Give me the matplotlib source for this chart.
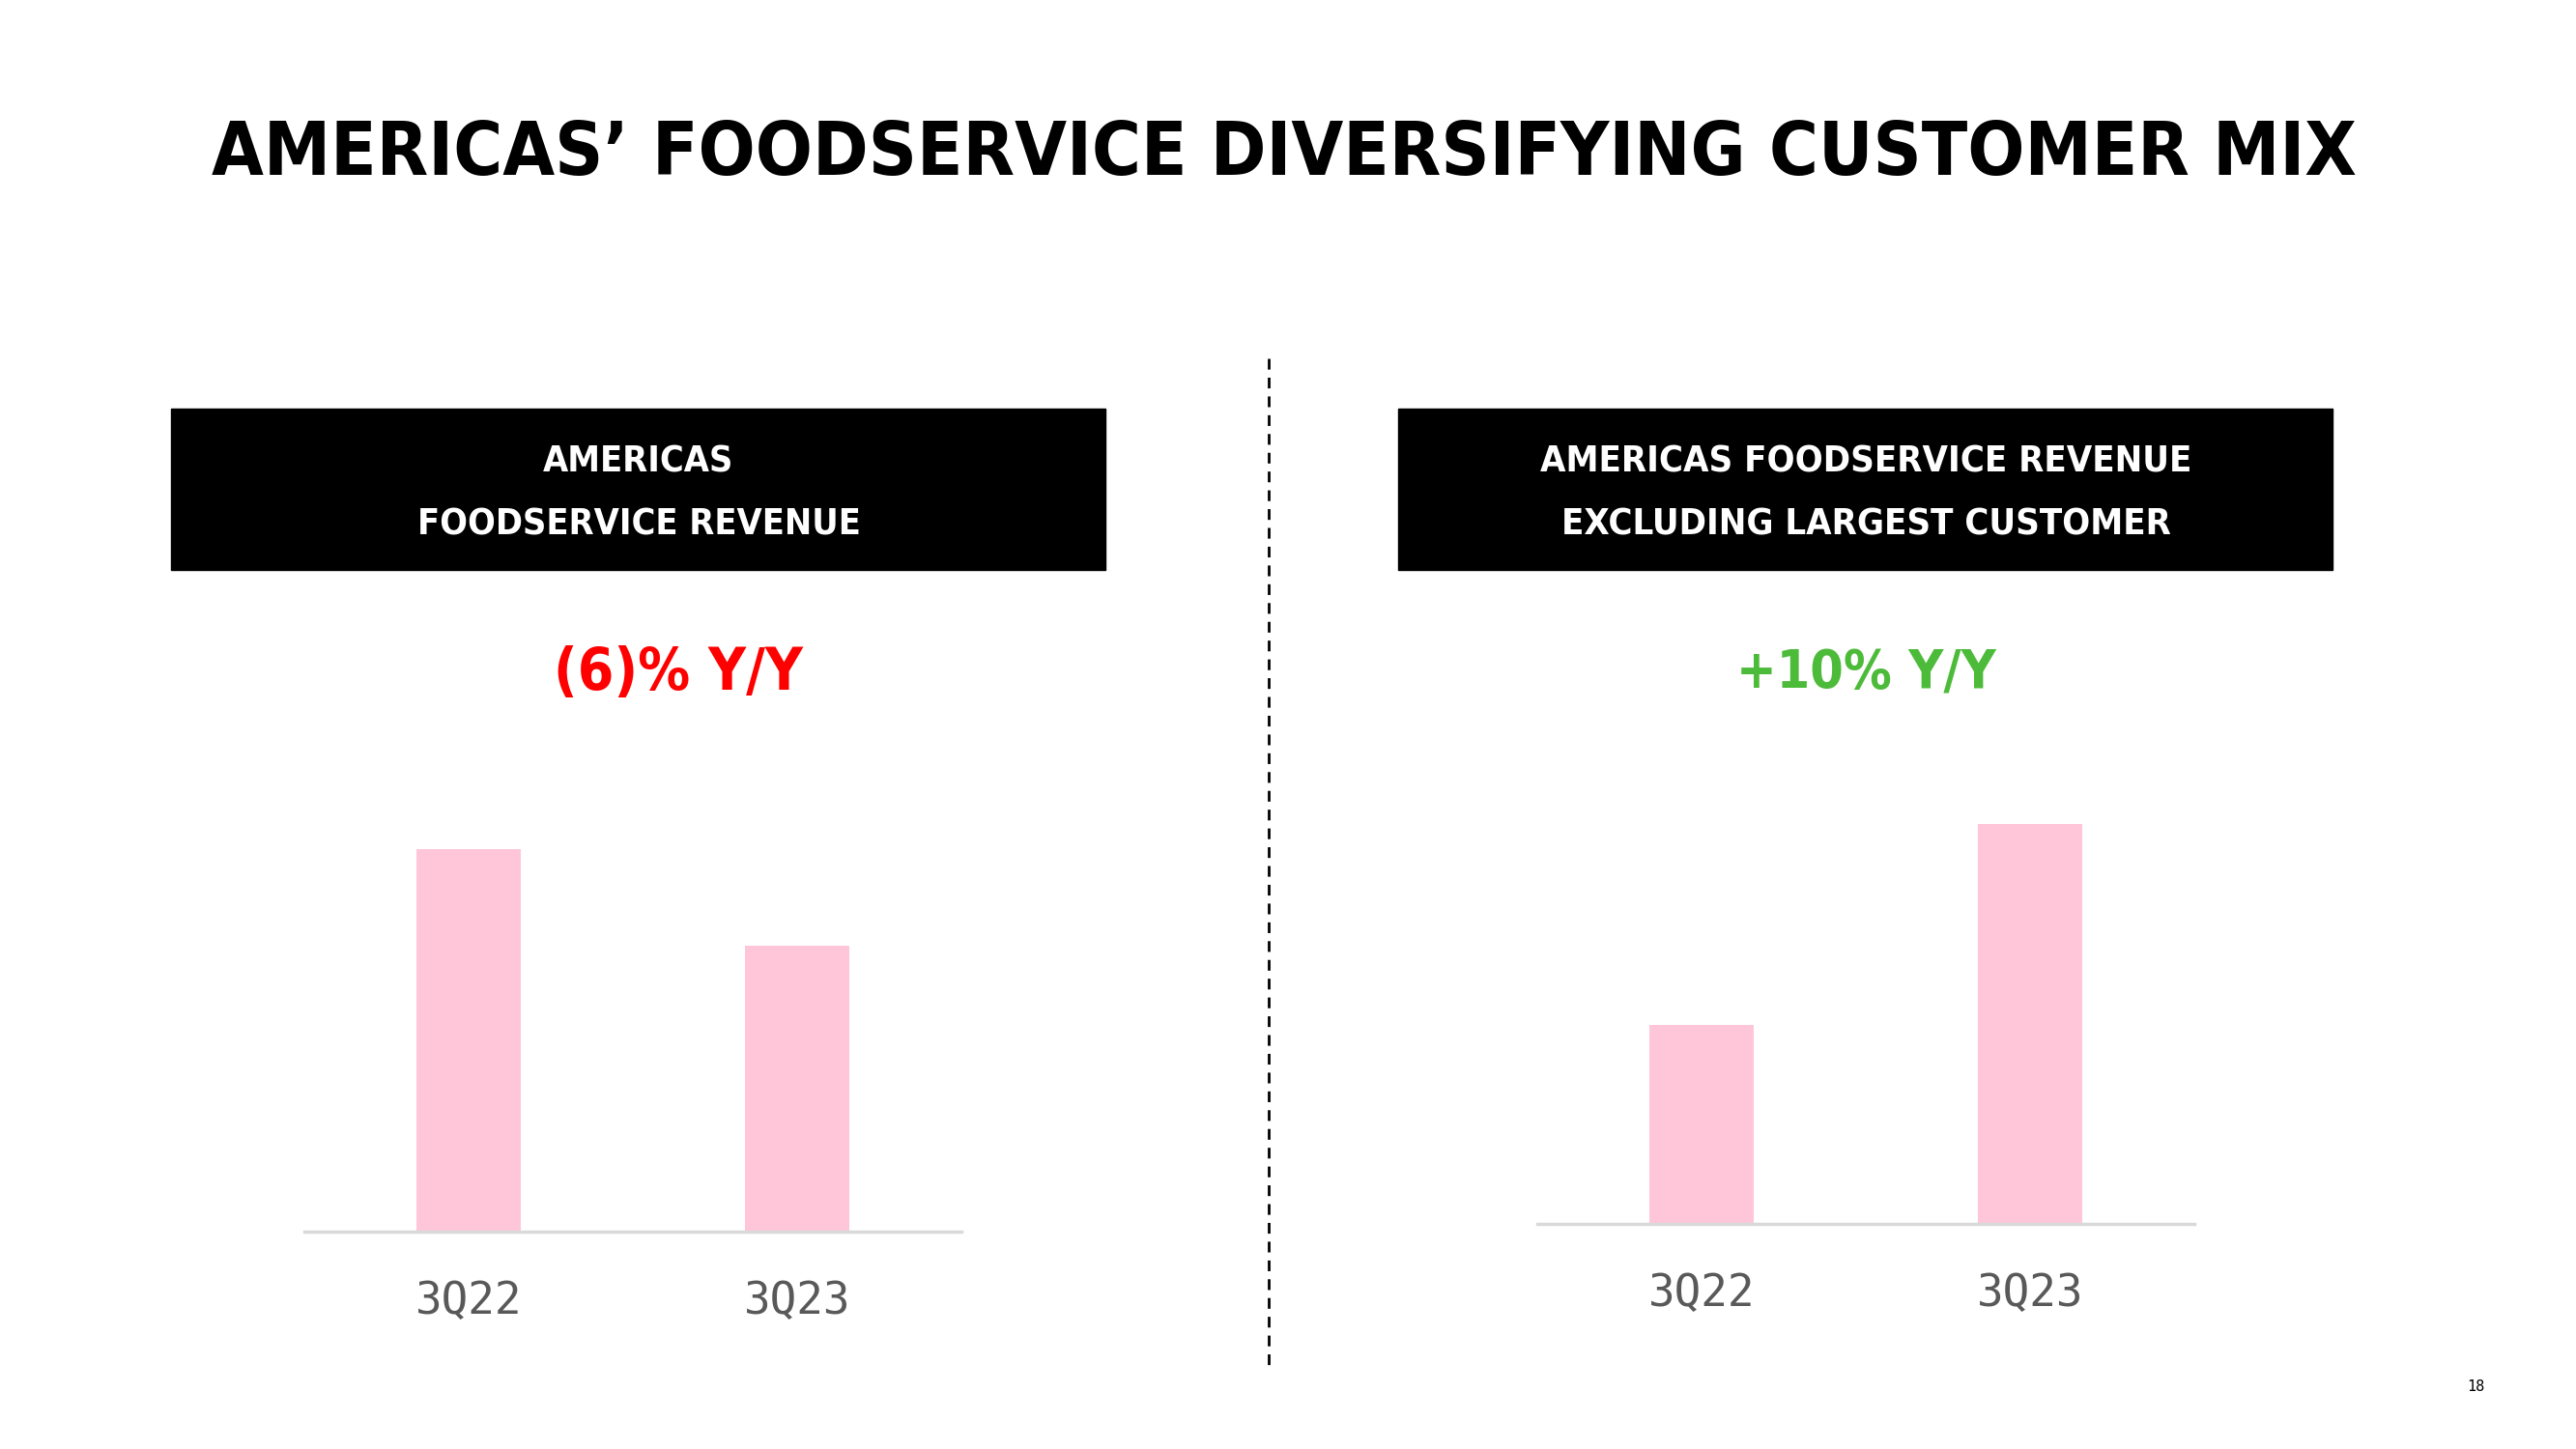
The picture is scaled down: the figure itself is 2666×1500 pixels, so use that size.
import matplotlib.pyplot as plt
from matplotlib.lines import Line2D
from matplotlib.patches import Rectangle

title = 'AMERICAS\u2019 FOODSERVICE DIVERSIFYING CUSTOMER MIX'
quarters = ['3Q22', '3Q23']
left_title = 'AMERICAS\nFOODSERVICE REVENUE'
right_title = 'AMERICAS FOODSERVICE REVENUE\nEXCLUDING LARGEST CUSTOMER'
left_vals = [396, 296]     # relative bar heights
right_vals = [206, 414]
left_change = '(6)% Y/Y'
right_change = '+10% Y/Y'
page = '18'

W, H = 2666, 1500
head = ['DejaVu Sans']
mono = ['DejaVu Sans Mono']
pink = '#FFC6DA'

fig = plt.figure(figsize=(W / 100, H / 100), dpi=100)
fig.patch.set_facecolor('white')

def fit(t, target):
    # scale font so the text spans the width it has on the slide
    r = fig.canvas.get_renderer()
    w = t.get_window_extent(r).width
    t.set_fontsize(t.get_fontsize() * target / w)

t = fig.text(1329 / W, 1 - 160 / H, title, ha='center', va='center',
             fontsize=60, fontweight='heavy', fontstretch='condensed',
             family=head, color='black')
fit(t, 2222)

def panel(x0, axx, base, vals, box_title, box_w, change, change_x, change_w, color):
    fig.patches.append(Rectangle((x0 / W, 1 - 590 / H), 967 / W, 167 / H,
                                 transform=fig.transFigure, color='black'))
    t = fig.text((x0 + 484) / W, 1 - 511 / H, box_title, ha='center', va='center',
                 fontsize=30, fontweight='bold', fontstretch='condensed',
                 family=head, color='white', linespacing=2.05)
    fit(t, box_w)
    t = fig.text(change_x / W, 1 - 697 / H, change, ha='center', va='center',
                 fontsize=50, fontweight='heavy', fontstretch='condensed',
                 family=head, color=color)
    fit(t, change_w)
    ax = fig.add_axes([axx / W, 1 - base / H, 680 / W, 500 / H])
    ax.bar(range(len(vals)), vals, width=0.315, color=pink)
    ax.set_xlim(-0.5, 1.5)
    ax.set_ylim(0, 500)
    ax.set_xticks(range(len(quarters)))
    ax.set_xticklabels(quarters, fontsize=33, family=mono, color='#595959')
    ax.tick_params(axis='x', length=0, pad=36)
    ax.set_yticks([])
    for s in ['top', 'right', 'left']:
        ax.spines[s].set_visible(False)
    ax.spines['bottom'].set_color('#D9D9D9')
    ax.spines['bottom'].set_linewidth(2.5)
    ax.set_facecolor('none')

panel(177, 315, 1275, left_vals, left_title, 457, left_change, 702, 258, '#FF0000')
panel(1447, 1591, 1267, right_vals, right_title, 673, right_change, 1931, 269, '#4DBB3A')

fig.lines.append(Line2D([1313 / W, 1313 / W], [1 - 371 / H, 1 - 1414 / H],
                        transform=fig.transFigure, color='black',
                        linewidth=2, linestyle=(0, (4, 3))))

fig.text(2562 / W, 1 - 1435 / H, page, ha='center', va='center',
         fontsize=11, family=mono, color='black')

fig.savefig('out.png', dpi=100)
